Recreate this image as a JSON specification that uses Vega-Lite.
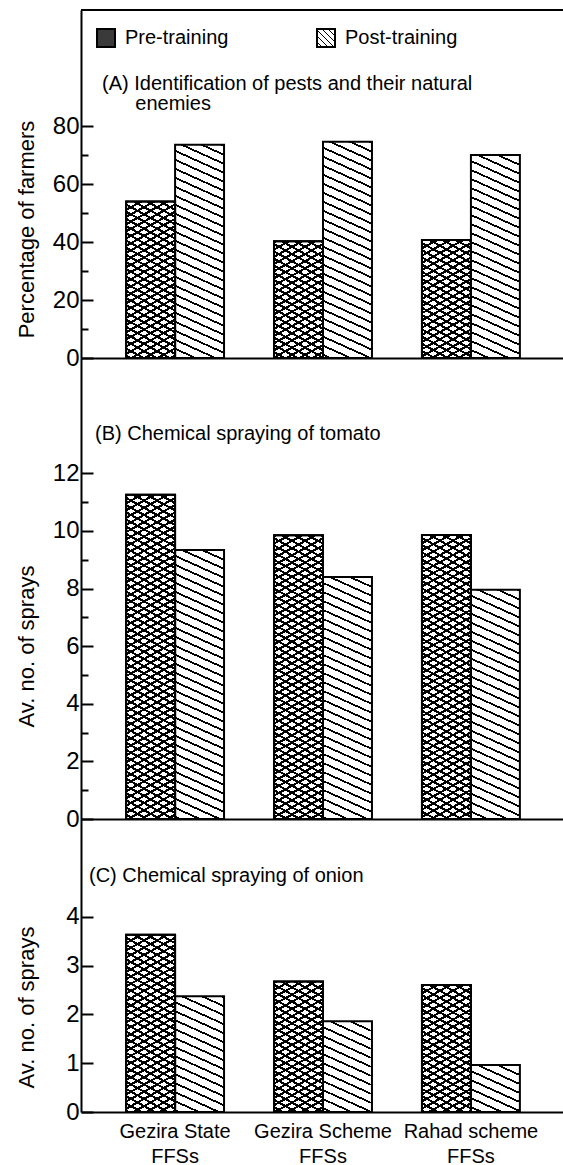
{
"$schema": "https://vega.github.io/schema/vega-lite/v6.json",
"padding": {"left": 15, "top": 9, "right": 0, "bottom": 0},
"bounds": "flush",
"spacing": 0,
"background": "white",
"params": [
{"name": "sc", "value": [
{"offset":0,"color":"#000"},{"offset":0.0066,"color":"#000"},{"offset":0.0066,"color":"transparent"},{"offset":0.02,"color":"transparent"},
{"offset":0.02,"color":"#000"},{"offset":0.0266,"color":"#000"},{"offset":0.0266,"color":"transparent"},{"offset":0.04,"color":"transparent"},
{"offset":0.04,"color":"#000"},{"offset":0.0466,"color":"#000"},{"offset":0.0466,"color":"transparent"},{"offset":0.06,"color":"transparent"},
{"offset":0.06,"color":"#000"},{"offset":0.0666,"color":"#000"},{"offset":0.0666,"color":"transparent"},{"offset":0.08,"color":"transparent"},
{"offset":0.08,"color":"#000"},{"offset":0.0866,"color":"#000"},{"offset":0.0866,"color":"transparent"},{"offset":0.1,"color":"transparent"},
{"offset":0.1,"color":"#000"},{"offset":0.1066,"color":"#000"},{"offset":0.1066,"color":"transparent"},{"offset":0.12,"color":"transparent"},
{"offset":0.12,"color":"#000"},{"offset":0.1266,"color":"#000"},{"offset":0.1266,"color":"transparent"},{"offset":0.14,"color":"transparent"},
{"offset":0.14,"color":"#000"},{"offset":0.1466,"color":"#000"},{"offset":0.1466,"color":"transparent"},{"offset":0.16,"color":"transparent"},
{"offset":0.16,"color":"#000"},{"offset":0.1666,"color":"#000"},{"offset":0.1666,"color":"transparent"},{"offset":0.18,"color":"transparent"},
{"offset":0.18,"color":"#000"},{"offset":0.1866,"color":"#000"},{"offset":0.1866,"color":"transparent"},{"offset":0.2,"color":"transparent"},
{"offset":0.2,"color":"#000"},{"offset":0.2066,"color":"#000"},{"offset":0.2066,"color":"transparent"},{"offset":0.22,"color":"transparent"},
{"offset":0.22,"color":"#000"},{"offset":0.2266,"color":"#000"},{"offset":0.2266,"color":"transparent"},{"offset":0.24,"color":"transparent"},
{"offset":0.24,"color":"#000"},{"offset":0.2466,"color":"#000"},{"offset":0.2466,"color":"transparent"},{"offset":0.26,"color":"transparent"},
{"offset":0.26,"color":"#000"},{"offset":0.2666,"color":"#000"},{"offset":0.2666,"color":"transparent"},{"offset":0.28,"color":"transparent"},
{"offset":0.28,"color":"#000"},{"offset":0.2866,"color":"#000"},{"offset":0.2866,"color":"transparent"},{"offset":0.3,"color":"transparent"},
{"offset":0.3,"color":"#000"},{"offset":0.3066,"color":"#000"},{"offset":0.3066,"color":"transparent"},{"offset":0.32,"color":"transparent"},
{"offset":0.32,"color":"#000"},{"offset":0.3266,"color":"#000"},{"offset":0.3266,"color":"transparent"},{"offset":0.34,"color":"transparent"},
{"offset":0.34,"color":"#000"},{"offset":0.3466,"color":"#000"},{"offset":0.3466,"color":"transparent"},{"offset":0.36,"color":"transparent"},
{"offset":0.36,"color":"#000"},{"offset":0.3666,"color":"#000"},{"offset":0.3666,"color":"transparent"},{"offset":0.38,"color":"transparent"},
{"offset":0.38,"color":"#000"},{"offset":0.3866,"color":"#000"},{"offset":0.3866,"color":"transparent"},{"offset":0.4,"color":"transparent"},
{"offset":0.4,"color":"#000"},{"offset":0.4066,"color":"#000"},{"offset":0.4066,"color":"transparent"},{"offset":0.42,"color":"transparent"},
{"offset":0.42,"color":"#000"},{"offset":0.4266,"color":"#000"},{"offset":0.4266,"color":"transparent"},{"offset":0.44,"color":"transparent"},
{"offset":0.44,"color":"#000"},{"offset":0.4466,"color":"#000"},{"offset":0.4466,"color":"transparent"},{"offset":0.46,"color":"transparent"},
{"offset":0.46,"color":"#000"},{"offset":0.4666,"color":"#000"},{"offset":0.4666,"color":"transparent"},{"offset":0.48,"color":"transparent"},
{"offset":0.48,"color":"#000"},{"offset":0.4866,"color":"#000"},{"offset":0.4866,"color":"transparent"},{"offset":0.5,"color":"transparent"},
{"offset":0.5,"color":"#000"},{"offset":0.5066,"color":"#000"},{"offset":0.5066,"color":"transparent"},{"offset":0.52,"color":"transparent"},
{"offset":0.52,"color":"#000"},{"offset":0.5266,"color":"#000"},{"offset":0.5266,"color":"transparent"},{"offset":0.54,"color":"transparent"},
{"offset":0.54,"color":"#000"},{"offset":0.5466,"color":"#000"},{"offset":0.5466,"color":"transparent"},{"offset":0.56,"color":"transparent"},
{"offset":0.56,"color":"#000"},{"offset":0.5666,"color":"#000"},{"offset":0.5666,"color":"transparent"},{"offset":0.58,"color":"transparent"},
{"offset":0.58,"color":"#000"},{"offset":0.5866,"color":"#000"},{"offset":0.5866,"color":"transparent"},{"offset":0.6,"color":"transparent"},
{"offset":0.6,"color":"#000"},{"offset":0.6066,"color":"#000"},{"offset":0.6066,"color":"transparent"},{"offset":0.62,"color":"transparent"},
{"offset":0.62,"color":"#000"},{"offset":0.6266,"color":"#000"},{"offset":0.6266,"color":"transparent"},{"offset":0.64,"color":"transparent"},
{"offset":0.64,"color":"#000"},{"offset":0.6466,"color":"#000"},{"offset":0.6466,"color":"transparent"},{"offset":0.66,"color":"transparent"},
{"offset":0.66,"color":"#000"},{"offset":0.6666,"color":"#000"},{"offset":0.6666,"color":"transparent"},{"offset":0.68,"color":"transparent"},
{"offset":0.68,"color":"#000"},{"offset":0.6866,"color":"#000"},{"offset":0.6866,"color":"transparent"},{"offset":0.7,"color":"transparent"},
{"offset":0.7,"color":"#000"},{"offset":0.7066,"color":"#000"},{"offset":0.7066,"color":"transparent"},{"offset":0.72,"color":"transparent"},
{"offset":0.72,"color":"#000"},{"offset":0.7266,"color":"#000"},{"offset":0.7266,"color":"transparent"},{"offset":0.74,"color":"transparent"},
{"offset":0.74,"color":"#000"},{"offset":0.7466,"color":"#000"},{"offset":0.7466,"color":"transparent"},{"offset":0.76,"color":"transparent"},
{"offset":0.76,"color":"#000"},{"offset":0.7666,"color":"#000"},{"offset":0.7666,"color":"transparent"},{"offset":0.78,"color":"transparent"},
{"offset":0.78,"color":"#000"},{"offset":0.7866,"color":"#000"},{"offset":0.7866,"color":"transparent"},{"offset":0.8,"color":"transparent"},
{"offset":0.8,"color":"#000"},{"offset":0.8066,"color":"#000"},{"offset":0.8066,"color":"transparent"},{"offset":0.82,"color":"transparent"},
{"offset":0.82,"color":"#000"},{"offset":0.8266,"color":"#000"},{"offset":0.8266,"color":"transparent"},{"offset":0.84,"color":"transparent"},
{"offset":0.84,"color":"#000"},{"offset":0.8466,"color":"#000"},{"offset":0.8466,"color":"transparent"},{"offset":0.86,"color":"transparent"},
{"offset":0.86,"color":"#000"},{"offset":0.8666,"color":"#000"},{"offset":0.8666,"color":"transparent"},{"offset":0.88,"color":"transparent"},
{"offset":0.88,"color":"#000"},{"offset":0.8866,"color":"#000"},{"offset":0.8866,"color":"transparent"},{"offset":0.9,"color":"transparent"},
{"offset":0.9,"color":"#000"},{"offset":0.9066,"color":"#000"},{"offset":0.9066,"color":"transparent"},{"offset":0.92,"color":"transparent"},
{"offset":0.92,"color":"#000"},{"offset":0.9266,"color":"#000"},{"offset":0.9266,"color":"transparent"},{"offset":0.94,"color":"transparent"},
{"offset":0.94,"color":"#000"},{"offset":0.9466,"color":"#000"},{"offset":0.9466,"color":"transparent"},{"offset":0.96,"color":"transparent"},
{"offset":0.96,"color":"#000"},{"offset":0.9666,"color":"#000"},{"offset":0.9666,"color":"transparent"},{"offset":0.98,"color":"transparent"},
{"offset":0.98,"color":"#000"},{"offset":0.9866,"color":"#000"},{"offset":0.9866,"color":"transparent"},{"offset":1,"color":"transparent"}
]},
{"name": "sp", "value": [
{"offset":0,"color":"#000"},{"offset":0.0055,"color":"#000"},{"offset":0.0055,"color":"transparent"},{"offset":0.025,"color":"transparent"},
{"offset":0.025,"color":"#000"},{"offset":0.0305,"color":"#000"},{"offset":0.0305,"color":"transparent"},{"offset":0.05,"color":"transparent"},
{"offset":0.05,"color":"#000"},{"offset":0.0555,"color":"#000"},{"offset":0.0555,"color":"transparent"},{"offset":0.075,"color":"transparent"},
{"offset":0.075,"color":"#000"},{"offset":0.0805,"color":"#000"},{"offset":0.0805,"color":"transparent"},{"offset":0.1,"color":"transparent"},
{"offset":0.1,"color":"#000"},{"offset":0.1055,"color":"#000"},{"offset":0.1055,"color":"transparent"},{"offset":0.125,"color":"transparent"},
{"offset":0.125,"color":"#000"},{"offset":0.1305,"color":"#000"},{"offset":0.1305,"color":"transparent"},{"offset":0.15,"color":"transparent"},
{"offset":0.15,"color":"#000"},{"offset":0.1555,"color":"#000"},{"offset":0.1555,"color":"transparent"},{"offset":0.175,"color":"transparent"},
{"offset":0.175,"color":"#000"},{"offset":0.1805,"color":"#000"},{"offset":0.1805,"color":"transparent"},{"offset":0.2,"color":"transparent"},
{"offset":0.2,"color":"#000"},{"offset":0.2055,"color":"#000"},{"offset":0.2055,"color":"transparent"},{"offset":0.225,"color":"transparent"},
{"offset":0.225,"color":"#000"},{"offset":0.2305,"color":"#000"},{"offset":0.2305,"color":"transparent"},{"offset":0.25,"color":"transparent"},
{"offset":0.25,"color":"#000"},{"offset":0.2555,"color":"#000"},{"offset":0.2555,"color":"transparent"},{"offset":0.275,"color":"transparent"},
{"offset":0.275,"color":"#000"},{"offset":0.2805,"color":"#000"},{"offset":0.2805,"color":"transparent"},{"offset":0.3,"color":"transparent"},
{"offset":0.3,"color":"#000"},{"offset":0.3055,"color":"#000"},{"offset":0.3055,"color":"transparent"},{"offset":0.325,"color":"transparent"},
{"offset":0.325,"color":"#000"},{"offset":0.3305,"color":"#000"},{"offset":0.3305,"color":"transparent"},{"offset":0.35,"color":"transparent"},
{"offset":0.35,"color":"#000"},{"offset":0.3555,"color":"#000"},{"offset":0.3555,"color":"transparent"},{"offset":0.375,"color":"transparent"},
{"offset":0.375,"color":"#000"},{"offset":0.3805,"color":"#000"},{"offset":0.3805,"color":"transparent"},{"offset":0.4,"color":"transparent"},
{"offset":0.4,"color":"#000"},{"offset":0.4055,"color":"#000"},{"offset":0.4055,"color":"transparent"},{"offset":0.425,"color":"transparent"},
{"offset":0.425,"color":"#000"},{"offset":0.4305,"color":"#000"},{"offset":0.4305,"color":"transparent"},{"offset":0.45,"color":"transparent"},
{"offset":0.45,"color":"#000"},{"offset":0.4555,"color":"#000"},{"offset":0.4555,"color":"transparent"},{"offset":0.475,"color":"transparent"},
{"offset":0.475,"color":"#000"},{"offset":0.4805,"color":"#000"},{"offset":0.4805,"color":"transparent"},{"offset":0.5,"color":"transparent"},
{"offset":0.5,"color":"#000"},{"offset":0.5055,"color":"#000"},{"offset":0.5055,"color":"transparent"},{"offset":0.525,"color":"transparent"},
{"offset":0.525,"color":"#000"},{"offset":0.5305,"color":"#000"},{"offset":0.5305,"color":"transparent"},{"offset":0.55,"color":"transparent"},
{"offset":0.55,"color":"#000"},{"offset":0.5555,"color":"#000"},{"offset":0.5555,"color":"transparent"},{"offset":0.575,"color":"transparent"},
{"offset":0.575,"color":"#000"},{"offset":0.5805,"color":"#000"},{"offset":0.5805,"color":"transparent"},{"offset":0.6,"color":"transparent"},
{"offset":0.6,"color":"#000"},{"offset":0.6055,"color":"#000"},{"offset":0.6055,"color":"transparent"},{"offset":0.625,"color":"transparent"},
{"offset":0.625,"color":"#000"},{"offset":0.6305,"color":"#000"},{"offset":0.6305,"color":"transparent"},{"offset":0.65,"color":"transparent"},
{"offset":0.65,"color":"#000"},{"offset":0.6555,"color":"#000"},{"offset":0.6555,"color":"transparent"},{"offset":0.675,"color":"transparent"},
{"offset":0.675,"color":"#000"},{"offset":0.6805,"color":"#000"},{"offset":0.6805,"color":"transparent"},{"offset":0.7,"color":"transparent"},
{"offset":0.7,"color":"#000"},{"offset":0.7055,"color":"#000"},{"offset":0.7055,"color":"transparent"},{"offset":0.725,"color":"transparent"},
{"offset":0.725,"color":"#000"},{"offset":0.7305,"color":"#000"},{"offset":0.7305,"color":"transparent"},{"offset":0.75,"color":"transparent"},
{"offset":0.75,"color":"#000"},{"offset":0.7555,"color":"#000"},{"offset":0.7555,"color":"transparent"},{"offset":0.775,"color":"transparent"},
{"offset":0.775,"color":"#000"},{"offset":0.7805,"color":"#000"},{"offset":0.7805,"color":"transparent"},{"offset":0.8,"color":"transparent"},
{"offset":0.8,"color":"#000"},{"offset":0.8055,"color":"#000"},{"offset":0.8055,"color":"transparent"},{"offset":0.825,"color":"transparent"},
{"offset":0.825,"color":"#000"},{"offset":0.8305,"color":"#000"},{"offset":0.8305,"color":"transparent"},{"offset":0.85,"color":"transparent"},
{"offset":0.85,"color":"#000"},{"offset":0.8555,"color":"#000"},{"offset":0.8555,"color":"transparent"},{"offset":0.875,"color":"transparent"},
{"offset":0.875,"color":"#000"},{"offset":0.8805,"color":"#000"},{"offset":0.8805,"color":"transparent"},{"offset":0.9,"color":"transparent"},
{"offset":0.9,"color":"#000"},{"offset":0.9055,"color":"#000"},{"offset":0.9055,"color":"transparent"},{"offset":0.925,"color":"transparent"},
{"offset":0.925,"color":"#000"},{"offset":0.9305,"color":"#000"},{"offset":0.9305,"color":"transparent"},{"offset":0.95,"color":"transparent"},
{"offset":0.95,"color":"#000"},{"offset":0.9555,"color":"#000"},{"offset":0.9555,"color":"transparent"},{"offset":0.975,"color":"transparent"},
{"offset":0.975,"color":"#000"},{"offset":0.9805,"color":"#000"},{"offset":0.9805,"color":"transparent"},{"offset":1,"color":"transparent"}
]},
{"name": "lgPost", "expr": "{gradient: 'linear', x1: 1, y1: 0, x2: -5.667, y2: 6.667, stops: sp}"}
],
"data": {"values": [
{"panel":"A","site":"Gezira State FFSs","phase":"Pre-training","value":54},
{"panel":"A","site":"Gezira State FFSs","phase":"Post-training","value":73.5},
{"panel":"A","site":"Gezira Scheme FFSs","phase":"Pre-training","value":40.3},
{"panel":"A","site":"Gezira Scheme FFSs","phase":"Post-training","value":74.6},
{"panel":"A","site":"Rahad scheme FFSs","phase":"Pre-training","value":40.7},
{"panel":"A","site":"Rahad scheme FFSs","phase":"Post-training","value":70},
{"panel":"B","site":"Gezira State FFSs","phase":"Pre-training","value":11.25},
{"panel":"B","site":"Gezira State FFSs","phase":"Post-training","value":9.34},
{"panel":"B","site":"Gezira Scheme FFSs","phase":"Pre-training","value":9.85},
{"panel":"B","site":"Gezira Scheme FFSs","phase":"Post-training","value":8.4},
{"panel":"B","site":"Rahad scheme FFSs","phase":"Pre-training","value":9.86},
{"panel":"B","site":"Rahad scheme FFSs","phase":"Post-training","value":7.96},
{"panel":"C","site":"Gezira State FFSs","phase":"Pre-training","value":3.63},
{"panel":"C","site":"Gezira State FFSs","phase":"Post-training","value":2.37},
{"panel":"C","site":"Gezira Scheme FFSs","phase":"Pre-training","value":2.67},
{"panel":"C","site":"Gezira Scheme FFSs","phase":"Post-training","value":1.86},
{"panel":"C","site":"Rahad scheme FFSs","phase":"Pre-training","value":2.6},
{"panel":"C","site":"Rahad scheme FFSs","phase":"Post-training","value":0.96}
]},
"vconcat": [
{
"width": 484, "height": 348,
"title": {"text": ["(A) Identification of pests and their natural", "\u200d\u00a0\u00a0\u00a0\u00a0\u00a0\u00a0enemies"], "anchor": "start", "frame": "group", "orient": "top", "offset": -105, "dx": 21, "fontSize": 20, "fontWeight": "normal", "font": "Liberation Sans", "lineHeight": 20, "color": "black"},
"transform": [{"filter": "datum.panel == 'A'"}],
"layer": [
{"mark": {"type": "bar", "stroke": "black", "strokeWidth": 2, "fill": {"expr": "datum.phase == 'Pre-training' ? {gradient: 'linear', x1: 1, y1: 0, x2: 1 - 9702 / (726.3 + pow(datum.value * 2.9, 2)), y2: 360 * datum.value * 2.9 / (726.3 + pow(datum.value * 2.9, 2)), stops: sc} : {gradient: 'linear', x1: 1, y1: 0, x2: 1 - 7938 / (486.2 + pow(datum.value * 2.9, 2)), y2: 360 * datum.value * 2.9 / (486.2 + pow(datum.value * 2.9, 2)), stops: sp}"}},
 "encoding": {
  "x": {"field": "site", "type": "nominal", "sort": ["Gezira State FFSs","Gezira Scheme FFSs","Rahad scheme FFSs"], "scale": {"paddingInner": 0.338, "paddingOuter": 0.305}, "axis": {"title": null, "labels": false, "ticks": false, "domainWidth": 2, "domainColor": "black"}},
  "xOffset": {"field": "phase", "type": "nominal", "scale": {"domain": ["Pre-training","Post-training"], "paddingInner": 0, "paddingOuter": 0}},
  "y": {"field": "value", "type": "quantitative", "stack": null, "scale": {"domain": [0, 120], "nice": false}, "axis": {"orient": "left", "values": [0,20,40,60,80], "tickSize": -12, "tickWidth": 2, "domainWidth": 2, "labelPadding": 14, "labelFontSize": 24, "title": "Percentage of farmers", "titleFontSize": 22, "titleX": -43, "titleY": 219, "titleAngle": -90, "titleBaseline": "bottom", "titleAlign": "center", "grid": false}}
 }},
{"transform": [{"filter": "datum.phase == 'Pre-training'"}],
 "mark": {"type": "bar", "stroke": "black", "strokeWidth": 2, "fill": {"expr": "{gradient: 'linear', x1: 0, y1: 0, x2: 9702 / (726.3 + pow(datum.value * 2.9, 2)), y2: 360 * datum.value * 2.9 / (726.3 + pow(datum.value * 2.9, 2)), stops: sc}"}},
 "encoding": {
  "x": {"field": "site", "type": "nominal", "sort": ["Gezira State FFSs","Gezira Scheme FFSs","Rahad scheme FFSs"], "axis": {"title": null, "labels": false, "ticks": false, "domainWidth": 2, "domainColor": "black"}},
  "xOffset": {"field": "phase", "type": "nominal", "scale": {"domain": ["Pre-training","Post-training"]}},
  "y": {"field": "value", "type": "quantitative", "stack": null, "axis": {"orient": "left", "values": [10,30,50,70], "tickSize": -7, "tickWidth": 2, "labels": false, "domain": false, "title": null, "grid": false}}
 }},
{"mark": {"type": "rule", "strokeWidth": 2, "color": "black"}, "encoding": {"y": {"datum": 120, "axis": null}}},
{"transform": [{"filter": "false"}],
 "mark": {"type": "bar"},
 "encoding": {
  "fill": {"field": "phase", "type": "nominal", "scale": {"domain": ["Pre-training","Post-training"], "range": ["#3a3a3a", {"expr": "lgPost"}]}, "legend": {"orient": "none", "legendX": 15, "legendY": 18, "direction": "horizontal", "title": null, "symbolType": "square", "symbolSize": 324, "symbolStrokeColor": "black", "symbolStrokeWidth": 2, "symbolOpacity": 1, "labelFontSize": 20, "labelOffset": 9, "columnPadding": 84, "labelFont": "Liberation Sans", "labelColor": "black"}}
 }}
],
"resolve": {"axis": {"y": "independent"}}
},
{
"width": 484, "height": 461,
"title": {"text": "(B) Chemical spraying of tomato", "anchor": "start", "frame": "group", "orient": "top", "offset": -86, "dx": 14, "fontSize": 20, "fontWeight": "normal", "font": "Liberation Sans", "color": "black"},
"transform": [{"filter": "datum.panel == 'B'"}],
"layer": [
{"mark": {"type": "bar", "stroke": "black", "strokeWidth": 2, "fill": {"expr": "datum.phase == 'Pre-training' ? {gradient: 'linear', x1: 1, y1: 0, x2: 1 - 9702 / (726.3 + pow(datum.value * 28.8125, 2)), y2: 360 * datum.value * 28.8125 / (726.3 + pow(datum.value * 28.8125, 2)), stops: sc} : {gradient: 'linear', x1: 1, y1: 0, x2: 1 - 7938 / (486.2 + pow(datum.value * 28.8125, 2)), y2: 360 * datum.value * 28.8125 / (486.2 + pow(datum.value * 28.8125, 2)), stops: sp}"}},
 "encoding": {
  "x": {"field": "site", "type": "nominal", "sort": ["Gezira State FFSs","Gezira Scheme FFSs","Rahad scheme FFSs"], "scale": {"paddingInner": 0.338, "paddingOuter": 0.305}, "axis": {"title": null, "labels": false, "ticks": false, "domainWidth": 2, "domainColor": "black"}},
  "xOffset": {"field": "phase", "type": "nominal", "scale": {"domain": ["Pre-training","Post-training"], "paddingInner": 0, "paddingOuter": 0}},
  "y": {"field": "value", "type": "quantitative", "stack": null, "scale": {"domain": [0, 16], "nice": false}, "axis": {"orient": "left", "values": [0,2,4,6,8,10,12], "tickSize": -12, "tickWidth": 2, "domainWidth": 2, "labelPadding": 14, "labelFontSize": 24, "title": "Av. no. of sprays", "titleFontSize": 22, "titleX": -43, "titleY": 288, "titleAngle": -90, "titleBaseline": "bottom", "titleAlign": "center", "grid": false}}
 }},
{"transform": [{"filter": "datum.phase == 'Pre-training'"}],
 "mark": {"type": "bar", "stroke": "black", "strokeWidth": 2, "fill": {"expr": "{gradient: 'linear', x1: 0, y1: 0, x2: 9702 / (726.3 + pow(datum.value * 28.8125, 2)), y2: 360 * datum.value * 28.8125 / (726.3 + pow(datum.value * 28.8125, 2)), stops: sc}"}},
 "encoding": {
  "x": {"field": "site", "type": "nominal", "sort": ["Gezira State FFSs","Gezira Scheme FFSs","Rahad scheme FFSs"], "axis": {"title": null, "labels": false, "ticks": false, "domainWidth": 2, "domainColor": "black"}},
  "xOffset": {"field": "phase", "type": "nominal", "scale": {"domain": ["Pre-training","Post-training"]}},
  "y": {"field": "value", "type": "quantitative", "stack": null, "axis": {"orient": "left", "values": [1,3,5,7,9,11], "tickSize": -7, "tickWidth": 2, "labels": false, "domain": false, "title": null, "grid": false}}
 }}
],
"resolve": {"axis": {"y": "independent"}}
},
{
"width": 484, "height": 293,
"title": {"text": "(C) Chemical spraying of onion", "anchor": "start", "frame": "group", "orient": "top", "offset": -67, "dx": 8, "fontSize": 20, "fontWeight": "normal", "font": "Liberation Sans", "color": "black"},
"transform": [{"filter": "datum.panel == 'C'"}],
"layer": [
{"mark": {"type": "bar", "stroke": "black", "strokeWidth": 2, "fill": {"expr": "datum.phase == 'Pre-training' ? {gradient: 'linear', x1: 1, y1: 0, x2: 1 - 9702 / (726.3 + pow(datum.value * 48.83, 2)), y2: 360 * datum.value * 48.83 / (726.3 + pow(datum.value * 48.83, 2)), stops: sc} : {gradient: 'linear', x1: 1, y1: 0, x2: 1 - 7938 / (486.2 + pow(datum.value * 48.83, 2)), y2: 360 * datum.value * 48.83 / (486.2 + pow(datum.value * 48.83, 2)), stops: sp}"}},
 "encoding": {
  "x": {"field": "site", "type": "nominal", "sort": ["Gezira State FFSs","Gezira Scheme FFSs","Rahad scheme FFSs"], "scale": {"paddingInner": 0.338, "paddingOuter": 0.305}, "axis": {"title": null, "labels": true, "ticks": false, "domainWidth": 2, "domainColor": "black", "labelAngle": 0, "labelFontSize": 20, "labelPadding": 9, "labelBaseline": "top", "labelLineHeight": 25, "labelExpr": "[replace(datum.label, ' FFSs', ''), 'FFSs']"}},
  "xOffset": {"field": "phase", "type": "nominal", "scale": {"domain": ["Pre-training","Post-training"], "paddingInner": 0, "paddingOuter": 0}},
  "y": {"field": "value", "type": "quantitative", "stack": null, "scale": {"domain": [0, 6], "nice": false}, "axis": {"orient": "left", "values": [0,1,2,3,4], "tickSize": -12, "tickWidth": 2, "domainWidth": 2, "labelPadding": 14, "labelFontSize": 24, "title": "Av. no. of sprays", "titleFontSize": 22, "titleX": -43, "titleY": 188, "titleAngle": -90, "titleBaseline": "bottom", "titleAlign": "center", "grid": false}}
 }},
{"transform": [{"filter": "datum.phase == 'Pre-training'"}],
 "mark": {"type": "bar", "stroke": "black", "strokeWidth": 2, "fill": {"expr": "{gradient: 'linear', x1: 0, y1: 0, x2: 9702 / (726.3 + pow(datum.value * 48.83, 2)), y2: 360 * datum.value * 48.83 / (726.3 + pow(datum.value * 48.83, 2)), stops: sc}"}},
 "encoding": {
  "x": {"field": "site", "type": "nominal", "sort": ["Gezira State FFSs","Gezira Scheme FFSs","Rahad scheme FFSs"], "axis": {"title": null, "labels": true, "ticks": false, "domainWidth": 2, "domainColor": "black", "labelAngle": 0, "labelFontSize": 20, "labelPadding": 9, "labelBaseline": "top", "labelLineHeight": 25, "labelExpr": "[replace(datum.label, ' FFSs', ''), 'FFSs']"}},
  "xOffset": {"field": "phase", "type": "nominal", "scale": {"domain": ["Pre-training","Post-training"]}},
  "y": {"field": "value", "type": "quantitative", "stack": null, "axis": null}
 }}
],
"resolve": {"axis": {"y": "independent"}}
}
],
"config": {
 "view": {"stroke": null},
 "font": "Liberation Sans",
 "axis": {"grid": false, "labelFont": "Liberation Sans", "titleFont": "Liberation Sans", "labelColor": "#000", "titleColor": "#000", "tickColor": "#000", "domainColor": "#000", "titleFontWeight": "normal"},
 "legend": {"labelFont": "Liberation Sans", "labelColor": "#000", "padding": 0}
}
}
